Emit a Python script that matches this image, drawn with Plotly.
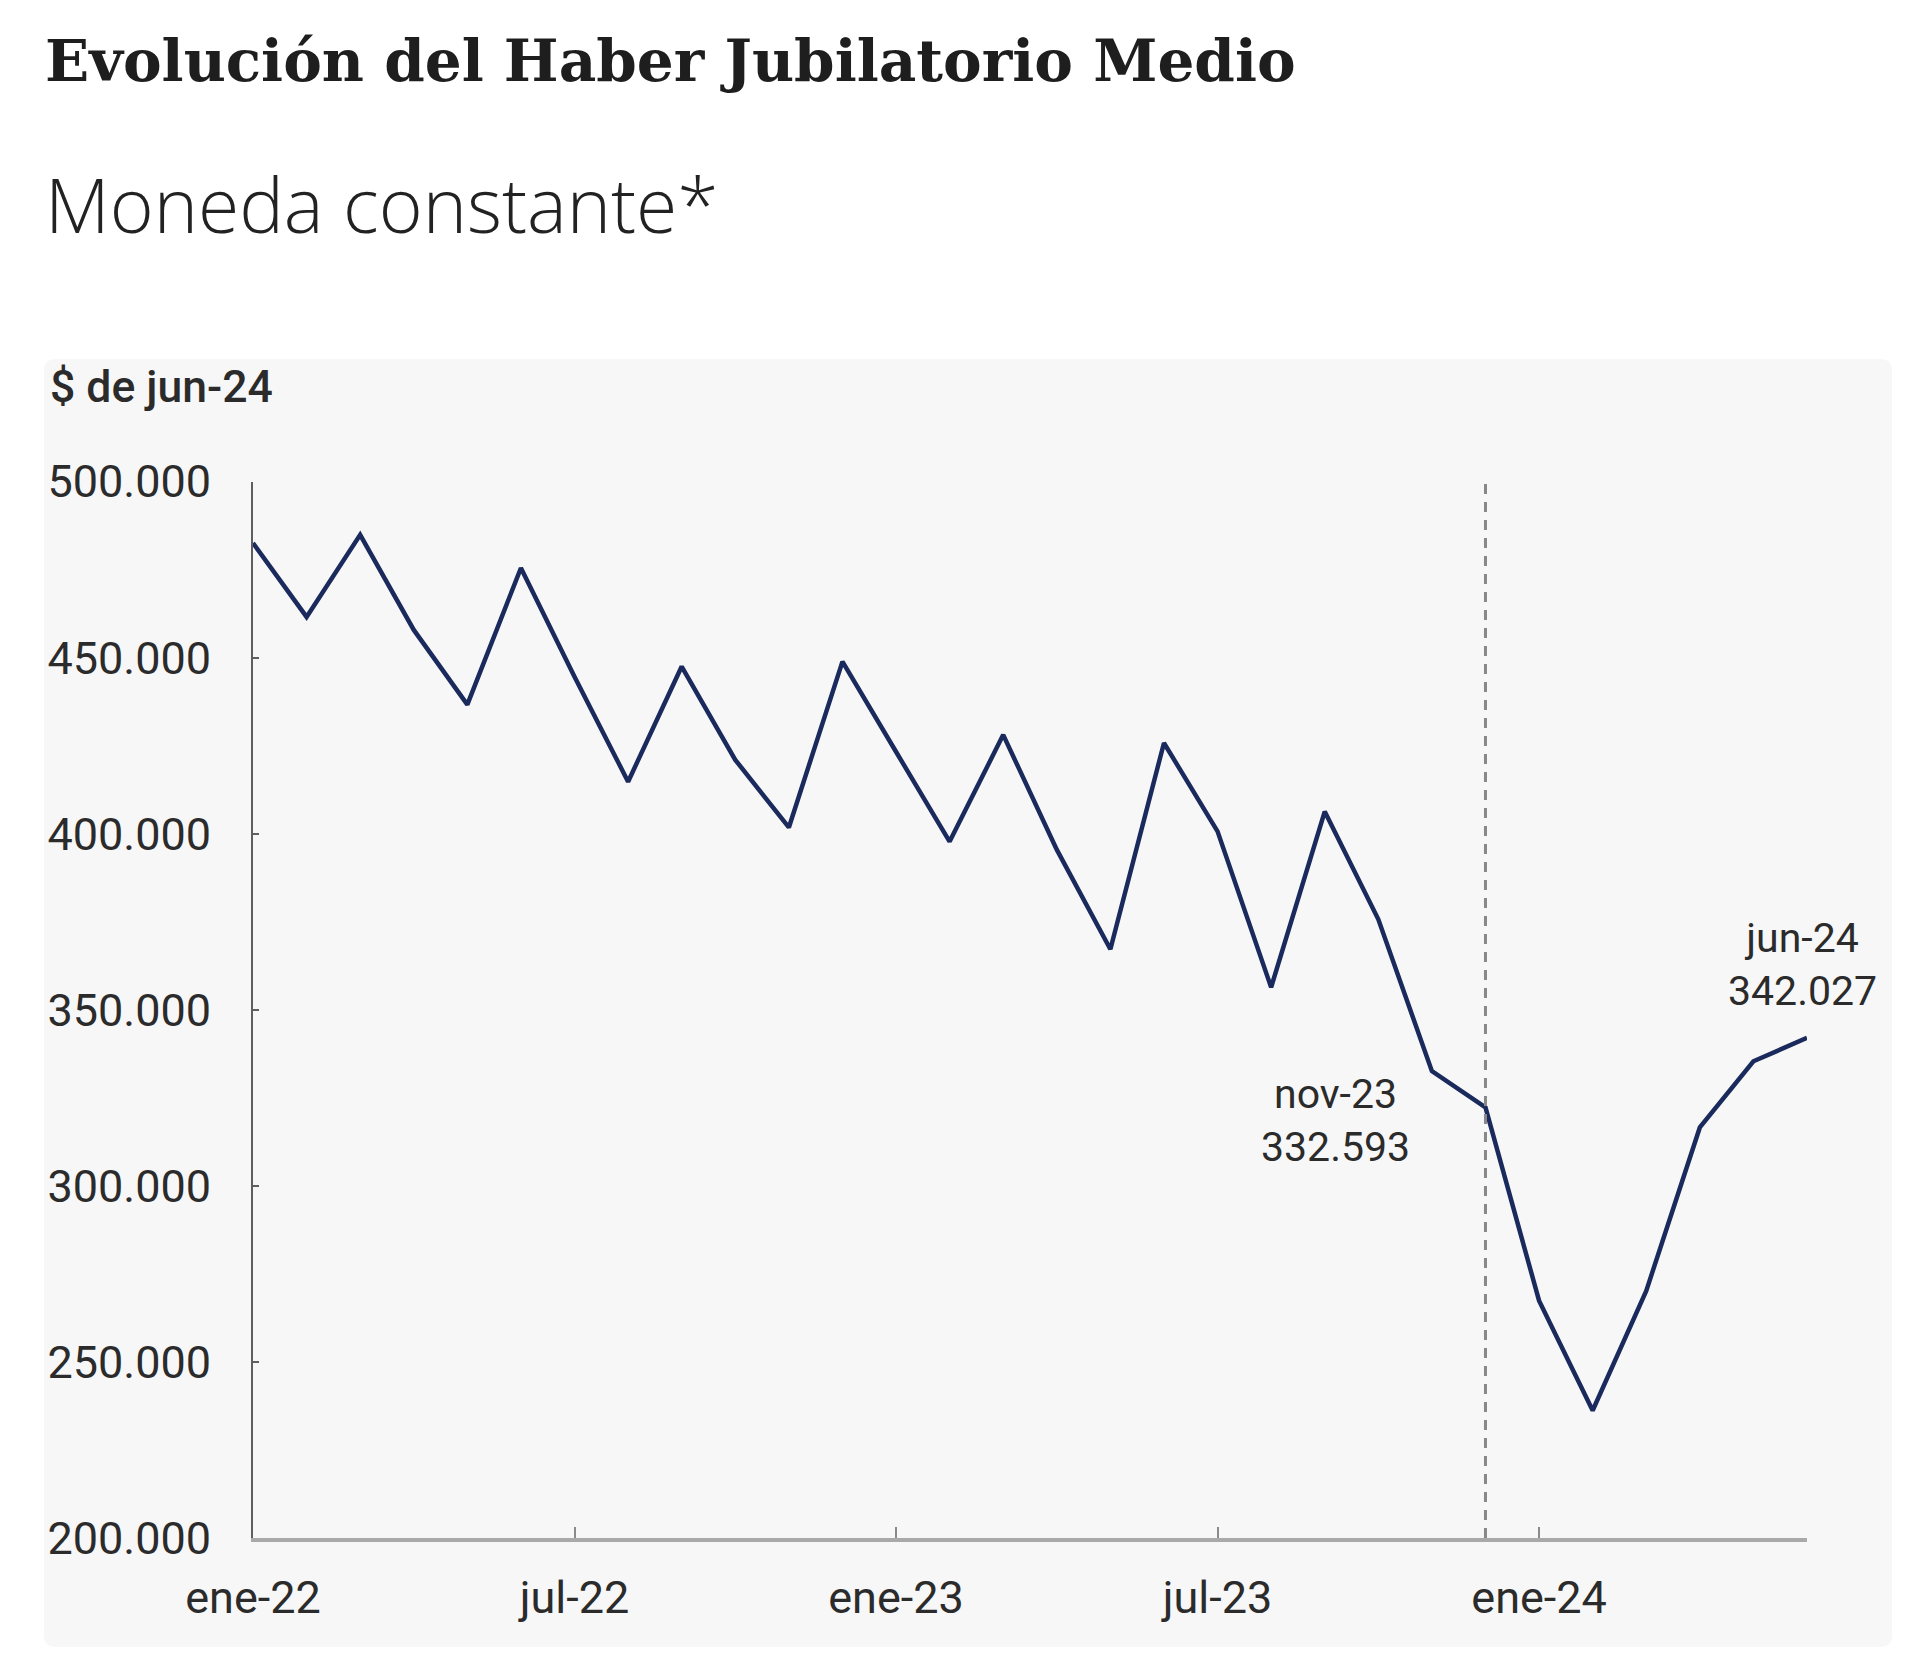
import plotly.graph_objects as go

# monthly series, $ of jun-24
months = ["ene-22", "feb-22", "mar-22", "abr-22", "may-22", "jun-22",
          "jul-22", "ago-22", "sep-22", "oct-22", "nov-22", "dic-22",
          "ene-23", "feb-23", "mar-23", "abr-23", "may-23", "jun-23",
          "jul-23", "ago-23", "sep-23", "oct-23", "nov-23", "dic-23",
          "ene-24", "feb-24", "mar-24", "abr-24", "may-24", "jun-24"]
haber_medio = [482600, 461600, 484900, 457900, 436700, 475500,
               444600, 414800, 447500, 421000, 401800, 448900,
               423300, 397800, 428100, 395500, 367200, 425800,
               400700, 356400, 406300, 375700, 332593, 322300,
               267400, 236200, 270200, 316600, 335400, 342027]
tick_months = ["ene-22", "jul-22", "ene-23", "jul-23", "ene-24"]
y_ticks = [200000, 250000, 300000, 350000, 400000, 450000, 500000]
marker_month = "dic-23"
labelled_months = ["nov-23", "jun-24"]

W, H = 1920, 1675
PAGE_OFF = 8  # default body margin of the html page
TEXT = "#2b2b2b"
LINE = "#1b2a5c"


def px_x(p):
    return (p - PAGE_OFF) / W


def px_y(p):
    return 1 - (p - PAGE_OFF) / H


def fmt_miles(v):
    return f"{v:,.0f}".replace(",", ".")


idx = list(range(len(months)))

fig = go.Figure()
fig.add_trace(go.Scatter(
    x=idx, y=haber_medio, mode="lines",
    line=dict(color=LINE, width=4.5),
    hoverinfo="skip", showlegend=False,
))

# grey rounded panel behind the chart
x0, x1, y0, y1, r = 44, 1892, 359, 1647, 12
path = (f"M {px_x(x0 + r)} {px_y(y0)} L {px_x(x1 - r)} {px_y(y0)} "
        f"Q {px_x(x1)} {px_y(y0)} {px_x(x1)} {px_y(y0 + r)} "
        f"L {px_x(x1)} {px_y(y1 - r)} "
        f"Q {px_x(x1)} {px_y(y1)} {px_x(x1 - r)} {px_y(y1)} "
        f"L {px_x(x0 + r)} {px_y(y1)} "
        f"Q {px_x(x0)} {px_y(y1)} {px_x(x0)} {px_y(y1 - r)} "
        f"L {px_x(x0)} {px_y(y0 + r)} "
        f"Q {px_x(x0)} {px_y(y0)} {px_x(x0 + r)} {px_y(y0)} Z")
fig.add_shape(type="path", path=path, xref="paper", yref="paper",
              fillcolor="#f7f7f7", line=dict(width=0), layer="below")

# dashed marker line
m = months.index(marker_month)
fig.add_shape(type="line", xref="x", yref="y",
              x0=m, x1=m, y0=y_ticks[0], y1=y_ticks[-1],
              line=dict(color="#888888", width=3, dash="10px,8px"))

# point labels
offsets = {"nov-23": (-96, -49), "jun-24": (-5, 73)}
for lab in labelled_months:
    i = months.index(lab)
    dx, dy = offsets[lab]
    fig.add_annotation(x=i, y=haber_medio[i], xref="x", yref="y",
                       text=f"{lab}<br>{fmt_miles(haber_medio[i])}",
                       showarrow=False, xshift=dx, yshift=dy,
                       font=dict(family="Roboto", size=41, color=TEXT))

# titles
fig.add_annotation(x=px_x(43), y=px_y(61), xref="paper", yref="paper",
                   xanchor="left", yanchor="middle", showarrow=False,
                   text="<b>Evolución del Haber Jubilatorio Medio</b>",
                   font=dict(family="DejaVu Serif", size=58, color="#1e1e1e"))
fig.add_annotation(x=px_x(43), y=px_y(204), xref="paper", yref="paper",
                   xanchor="left", yanchor="middle", showarrow=False,
                   text="Moneda constante*",
                   font=dict(family="Open Sans", size=75, color="#222222", weight=300))
fig.add_annotation(x=px_x(48), y=px_y(387), xref="paper", yref="paper",
                   xanchor="left", yanchor="middle", showarrow=False,
                   text="$ de jun-24",
                   font=dict(family="Roboto", size=44.5, color=TEXT, weight=500))

fig.update_layout(
    width=W, height=H,
    margin=dict(l=0, r=0, t=0, b=0),
    paper_bgcolor="white", plot_bgcolor="rgba(0,0,0,0)",
    separators=",.",
    showlegend=False,
    font=dict(family="Roboto", color=TEXT),
)
fig.update_xaxes(
    domain=[px_x(253), px_x(1807)], range=[0, len(months) - 1],
    tickvals=[months.index(t) for t in tick_months], ticktext=tick_months,
    showgrid=False, zeroline=False, automargin=False,
    showline=True, linecolor="#a9a9a9", linewidth=4,
    ticks="inside", ticklen=11, tickwidth=1.5, tickcolor="#8a8a8a",
    ticklabelstandoff=17,
    tickfont=dict(family="Roboto", size=45, color=TEXT),
)
fig.update_yaxes(
    domain=[px_y(1538), px_y(481.7)], range=[y_ticks[0], y_ticks[-1]],
    tickvals=y_ticks, tickformat=",.0f",
    showgrid=False, zeroline=False, automargin=False,
    showline=True, linecolor="#5e5e5e", linewidth=2,
    ticks="inside", ticklen=6, tickwidth=2, tickcolor="#5e5e5e",
    ticklabelstandoff=31,
    tickfont=dict(family="Roboto", size=45, color=TEXT),
)

fig.write_html("out.html")
